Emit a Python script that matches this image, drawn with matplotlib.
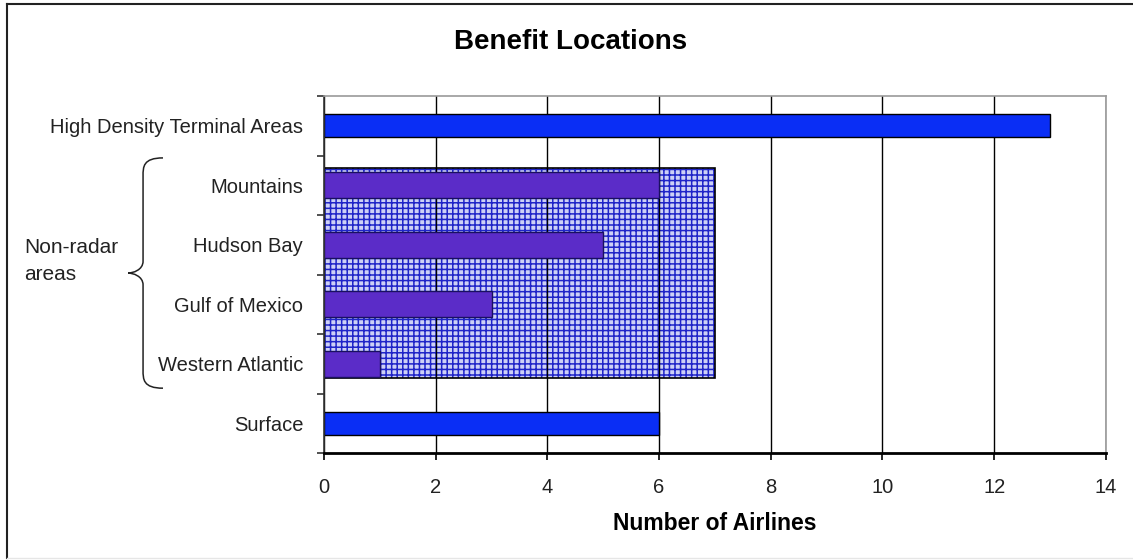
import matplotlib
matplotlib.use("Agg")
import matplotlib.pyplot as plt
from matplotlib.patches import Rectangle, PathPatch
from matplotlib.path import Path
from matplotlib.lines import Line2D

plt.rcParams['font.family'] = ['Liberation Sans', 'DejaVu Sans']
plt.rcParams['hatch.linewidth'] = 1.1

# Data
categories = ["High Density Terminal Areas", "Mountains", "Hudson Bay",
              "Gulf of Mexico", "Western Atlantic", "Surface"]
airlines = [13, 6, 5, 3, 1, 6]
nonradar_group = ["Mountains", "Hudson Bay", "Gulf of Mexico", "Western Atlantic"]
nonradar_total = 7
x_ticks = [0, 2, 4, 6, 8, 10, 12, 14]

BLUE = "#0a2ef5"
PURPLE = "#5b2cc8"
TEXT = "#222222"

fig = plt.figure(figsize=(11.33, 5.6), dpi=100)
ax = fig.add_axes([0.286, 0.191, 0.690, 0.6375])

pos = list(range(len(categories)))
ax.set_ylim(len(categories) - 0.5, -0.5)
ax.set_xlim(x_ticks[0], x_ticks[-1])

# Shaded block for the non-radar group
idx = [categories.index(c) for c in nonradar_group]
top = min(idx) - 0.29
bottom = max(idx) + 0.24
ax.add_patch(Rectangle((0, top), nonradar_total, bottom - top,
                       facecolor="#cdd0f6", edgecolor="#1f24c8", hatch="+++",
                       linewidth=0, zorder=0.5))
ax.add_patch(Rectangle((0, top), nonradar_total, bottom - top,
                       facecolor="none", edgecolor="black", linewidth=1.2,
                       zorder=0.6))

# Bars
for p, cat, v in zip(pos, categories, airlines):
    if cat in nonradar_group:
        ax.barh(p, v, height=0.44, color=PURPLE, edgecolor="#1a1060",
                linewidth=1.0, zorder=2)
    else:
        ax.barh(p, v, height=0.38, color=BLUE, edgecolor="black",
                linewidth=1.0, zorder=2)

# Grid
ax.set_xticks(x_ticks)
ax.xaxis.grid(True, color="black", linewidth=1.0)
for gl in ax.get_xgridlines():
    gl.set_zorder(1)

# Ticks & labels
ax.set_yticks(pos)
ax.set_yticklabels(categories, fontsize=14.5, color=TEXT)
ax.tick_params(axis="y", which="major", length=0, pad=15)
ax.set_yticks([p - 0.5 for p in pos] + [len(pos) - 0.5], minor=True)
ax.tick_params(axis="y", which="minor", length=5, width=1.2, color="#333333",
               direction="out")
ax.tick_params(axis="x", length=5, width=1.2, direction="out", pad=13,
               labelsize=14.5, labelcolor=TEXT)

for s in ("top", "right"):
    ax.spines[s].set_color("#9a9a9a")
    ax.spines[s].set_linewidth(1.2)
ax.spines["left"].set_color("#333333")
ax.spines["left"].set_linewidth(1.2)
ax.spines["bottom"].set_color("black")
ax.spines["bottom"].set_linewidth(2.0)

ax.set_xlabel("Number of Airlines", fontsize=16.5, fontweight="bold", labelpad=11)
fig.text(0.504, 0.925, "Benefit Locations", fontsize=20, fontweight="bold",
         ha="center", va="center")

# Brace for the non-radar group
tr = ax.get_yaxis_transform()
bx = -0.2315
tip_x = -0.2506
cx = -0.206
b_top = min(idx) - 0.46
b_bot = max(idx) + 0.41
mid = (b_top + b_bot) / 2
verts = [
    (cx, b_top), (bx, b_top), (bx, b_top + 0.15), (bx, b_top + 0.3),
    (bx, mid - 0.2),
    (bx, mid - 0.05), (tip_x + 0.006, mid), (tip_x, mid),
    (tip_x + 0.006, mid), (bx, mid + 0.05), (bx, mid + 0.2),
    (bx, b_bot - 0.3),
    (bx, b_bot - 0.15), (bx, b_bot), (cx, b_bot),
]
codes = [Path.MOVETO, Path.CURVE4, Path.CURVE4, Path.CURVE4,
         Path.LINETO,
         Path.CURVE4, Path.CURVE4, Path.CURVE4,
         Path.CURVE4, Path.CURVE4, Path.CURVE4,
         Path.LINETO,
         Path.CURVE4, Path.CURVE4, Path.CURVE4]
ax.add_patch(PathPatch(Path(verts, codes), transform=tr, facecolor="none",
                       edgecolor=TEXT, linewidth=1.1, clip_on=False))
fig.text(0.021, 0.534, "Non-radar\nareas", fontsize=15, color=TEXT,
         ha="left", va="center", linespacing=1.5)

# Outer frame
fig.add_artist(Line2D([0.0062, 0.0062], [0.004, 0.993], transform=fig.transFigure,
                      color=TEXT, linewidth=1.5))
fig.add_artist(Line2D([0.0062, 1.0], [0.993, 0.993], transform=fig.transFigure,
                      color=TEXT, linewidth=1.5))
fig.add_artist(Line2D([0.0062, 1.0], [0.004, 0.004], transform=fig.transFigure,
                      color="#e6e6e6", linewidth=1.0))

fig.savefig("out.png", dpi=100, facecolor="white")
